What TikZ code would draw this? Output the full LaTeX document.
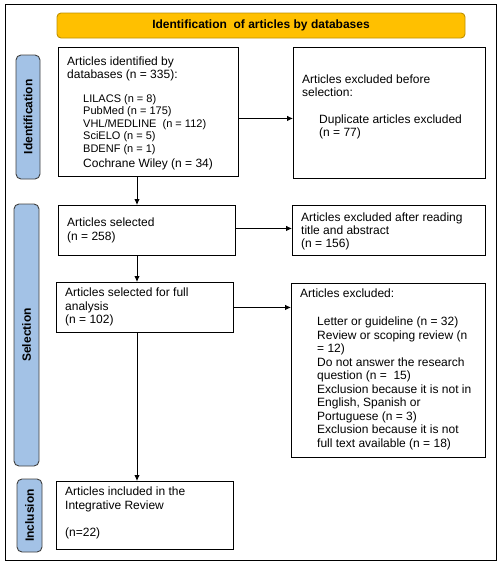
\documentclass[tikz,border=0pt]{standalone}
\usepackage{fontspec}
\setmainfont{Liberation Sans}
\usetikzlibrary{arrows.meta,calc}
\definecolor{bannerfill}{RGB}{255,192,0}
\definecolor{bannerdraw}{RGB}{191,144,0}
\definecolor{sidefill}{RGB}{163,194,230}
\definecolor{sidedraw}{RGB}{64,64,64}
\begin{document}
\begin{tikzpicture}[x=1pt,y=-1pt,
  box/.style={draw=black,line width=0.9pt,anchor=north west,inner sep=0pt},
  side/.style={draw=sidedraw,fill=sidefill,line width=0.9pt,rounded corners=5pt,rotate=90,inner sep=0pt,font=\fontsize{12}{13}\selectfont\bfseries},
  txt/.style={anchor=north west,inner sep=0pt,align=left,font=\fontsize{12}{13}\selectfont},
  small/.style={anchor=north west,inner sep=0pt,align=left,font=\fontsize{11}{12.5}\selectfont},
  arr/.style={line width=0.9pt,-{Latex[length=6pt,width=5.5pt]}}]
\useasboundingbox (0,0) rectangle (501,565);
\draw[line width=1pt] (5,4.5) rectangle (496,560.5);
% banner
\node[draw=bannerdraw,fill=bannerfill,line width=0.9pt,rounded corners=4pt,minimum width=408pt,minimum height=25pt,inner sep=0pt,font=\fontsize{12}{13}\selectfont\bfseries] (banner) at (261,25.5) {Identification\ \ of articles by databases};
% side labels
\node[side,minimum width=124pt,minimum height=24pt] (sid) at (28,117) {Identification};
\node[side,minimum width=262pt,minimum height=25pt] (ssel) at (26.5,335) {Selection};
\node[side,minimum width=73pt,minimum height=25pt] (sinc) at (29.5,515.5) {Inclusion};
% boxes
\node[box,minimum width=180pt,minimum height=129pt] (b1) at (58,47) {};
\node[box,minimum width=192pt,minimum height=131pt] (e1) at (293,47) {};
\node[box,minimum width=177pt,minimum height=50pt] (b2) at (58,205) {};
\node[box,minimum width=193pt,minimum height=50pt] (e2) at (292,205) {};
\node[box,minimum width=177pt,minimum height=50pt] (b3) at (56,282) {};
\node[box,minimum width=194pt,minimum height=174pt] (e3) at (291,283) {};
\node[box,minimum width=177pt,minimum height=68pt] (b4) at (56,481) {};
% texts
\node[txt] (t1) at (67,56.3) {Articles identified by\\databases (n = 335):};
\node[small] (t1l) at (83,94) {LILACS (n = 8)\\PubMed (n = 175)\\VHL/MEDLINE\ \ (n = 112)\\SciELO (n = 5)\\BDENF (n = 1)};
\node[txt] (t1c) at (83,158.3) {Cochrane Wiley (n = 34)};
\node[txt] (te1) at (302,74.3) {Articles excluded before\\selection:};
\node[txt] (te1b) at (319,114.3) {Duplicate articles excluded\\(n = 77)};
\node[txt,font=\fontsize{12}{14.7}\selectfont] (t2) at (67,217.3) {Articles selected\\(n = 258)};
\node[txt] (te2) at (301,212.3) {Articles excluded after reading\\title and abstract\\(n = 156)};
\node[txt,font=\fontsize{12}{13.5}\selectfont] (t3) at (65,288) {Articles selected for full\\analysis\\(n = 102)};
\node[txt] (te3) at (300,288.6) {Articles excluded:};
\node[txt,font=\fontsize{12}{13.5}\selectfont] (te3l) at (317,316.6) {Letter or guideline (n = 32)\\Review or scoping review (n\\= 12)\\Do not answer the research\\question (n =\ \ 15)\\Exclusion because it is not in\\English, Spanish or\\Portuguese (n = 3)\\Exclusion because it is not\\full text available (n = 18)};
\node[txt,font=\fontsize{12}{14}\selectfont] (t4) at (65,486.3) {Articles included in the\\Integrative Review\\[13.4pt](n=22)};
% connectors
\coordinate (colx) at (137,0);
\draw[arr] ([yshift=-6.5pt]b1.east) -- ([yshift=-6.5pt]b1.east -| e1.west);
\draw[arr] ([yshift=2pt]b2.east) -- ([yshift=2pt]b2.east -| e2.west);
\draw[arr] (b3.east) -- (b3.east -| e3.west);
\draw[arr] (b1.south -| colx) -- (b2.north -| colx);
\draw[arr] (b2.south -| colx) -- (b3.north -| colx);
\draw[arr] (b3.south -| colx) -- (b4.north -| colx);
\end{tikzpicture}
\end{document}
